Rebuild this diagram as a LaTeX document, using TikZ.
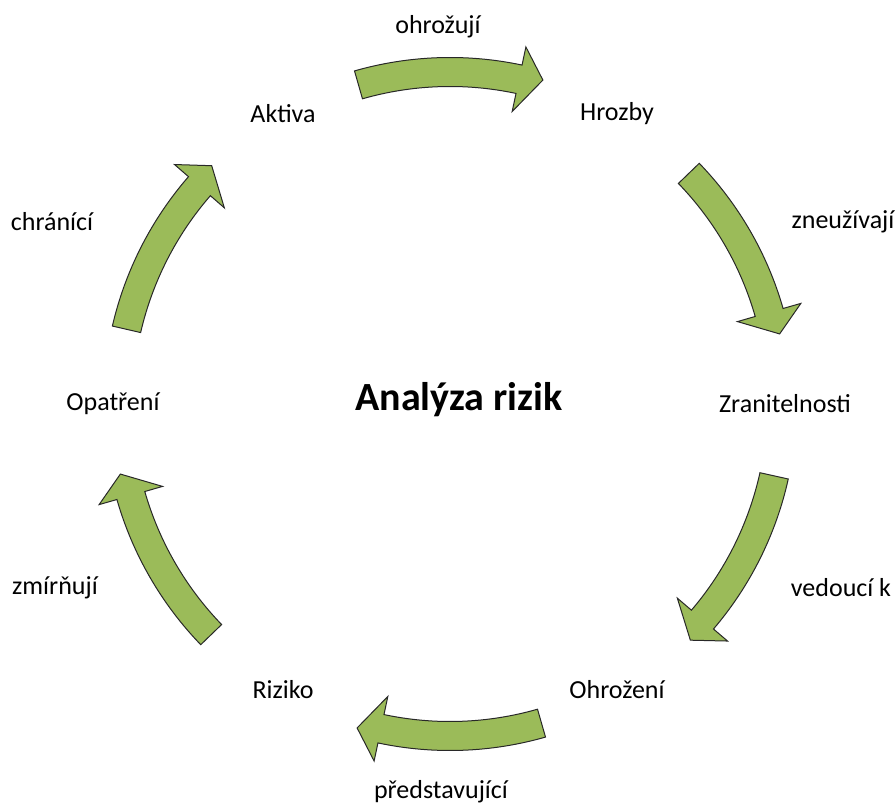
\documentclass[tikz,border=0pt]{standalone}
\usepackage{fontspec}
\setmainfont{Carlito}
\definecolor{arrowgreen}{RGB}{155,187,89}
\definecolor{arrowedge}{RGB}{40,40,40}
\begin{document}
\begin{tikzpicture}[x=1pt,y=1pt,
  lbl/.style={font=\fontsize{26}{30}\selectfont, text=black, inner sep=0pt},
  ttl/.style={font=\fontsize{40}{46}\selectfont\bfseries, text=black, inner sep=0pt},
  bentarrow/.pic={
    \fill[arrowgreen, draw=arrowedge, line width=1pt, line join=miter]
      (106:346.5) arc[start angle=106, end angle=78, radius=346.5]
      -- (78:365) -- (74:337) -- (78:299)
      -- (78:317.5) arc[start angle=78, end angle=106, radius=317.5] -- cycle;
  }]
\useasboundingbox (-450,-401) rectangle (446,404);
% nodes
\node[lbl] (aktiva) at (-167,290) {Aktiva};
\node[lbl] (hrozby) at (167,290) {Hrozby};
\node[lbl] (zran) at (335,0) {Zranitelnosti};
\node[lbl] (ohroz) at (167,-286) {Ohrožení};
\node[lbl] (riziko) at (-167,-286) {Riziko};
\node[lbl] (opatr) at (-337,0) {Opatření};
\node[ttl] (title) at (9,4) {Analýza rizik};
% arrows
\pic[rotate=0] (a1) at (0,0) {bentarrow};
\pic[rotate=-62] (a2) at (0,0) {bentarrow};
\pic[rotate=-118.5] (a3) at (0,0) {bentarrow};
\pic[rotate=180] (a4) at (0,0) {bentarrow};
\pic[rotate=118] (a5) at (0,0) {bentarrow};
\pic[rotate=61] (a6) at (0,0) {bentarrow};
% labels
\node[lbl] (l1) at (-12,377) {ohrožují};
\node[lbl] (l2) at (393,182) {zneužívají};
\node[lbl] (l3) at (391,-184) {vedoucí k};
\node[lbl] (l4) at (-9,-388) {představující};
\node[lbl] (l5) at (-395,-184) {zmírňují};
\node[lbl] (l6) at (-398,182) {chránící};
\end{tikzpicture}
\end{document}
